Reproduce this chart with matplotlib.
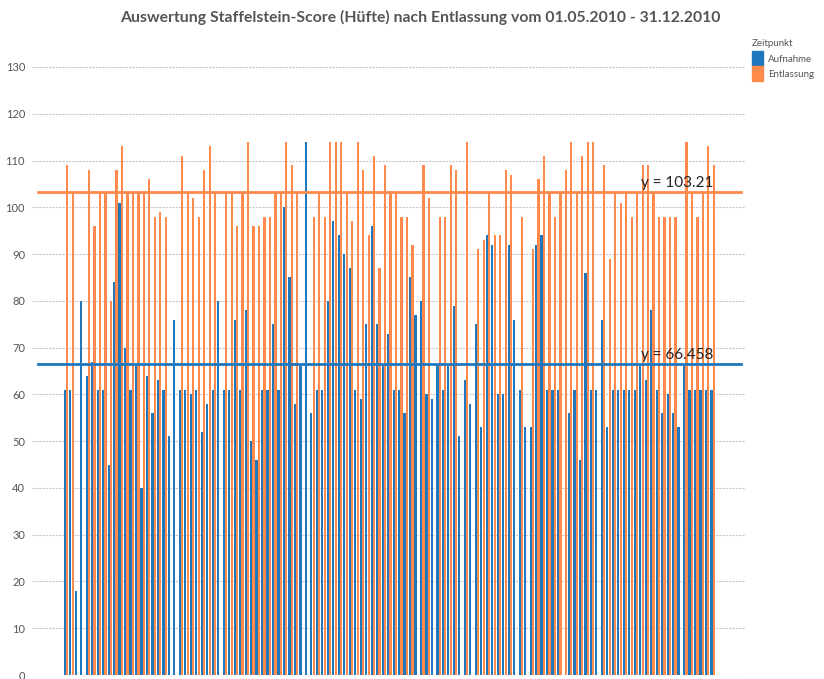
import matplotlib
matplotlib.use('Agg')

import matplotlib.pyplot as plt
from matplotlib.patches import Rectangle
import numpy as np

nan = np.nan

# Staffelstein-Score (Huefte), one pair per patient
aufnahme = [61, 61, 18, 80, 64, 67, 61, 61, 45, 84,
            101, 70, 61, 66, 40, 64, 56, 63, 61, 51,
            76, 61, 61, 60, 61, 52, 58, 61, 80, 61,
            61, 76, 61, 78, 50, 46, 61, 61, 75, 61,
            100, 85, 58, 66, 114, 56, 61, 61, 80, 97,
            94, 90, 87, 61, 59, 75, 96, 75, 66, 73,
            61, 61, 56, 85, 77, 80, 60, 59, 66, 61,
            66, 79, 51, 63, 58, 75, 53, 94, 92, 60,
            60, 92, 76, 61, 53, 53, 92, 94, 61, 61,
            61, nan, 56, 61, 46, 86, 61, 61, 76, 53,
            61, 61, 61, 61, 61, 66, 63, 78, 61, 56,
            60, 56, 53, 66, 61, 61, 61, 61, 61]

entlassung = [109, 103, nan, nan, 108, 96, 103, 103, 80, 108,
              113, 103, 103, 103, 103, 106, 98, 99, 98, nan,
              nan, 111, 103, 102, 98, 108, 113, 103, nan, 103,
              103, 96, 103, 114, 96, 96, 98, 98, 103, 103,
              114, 109, 103, nan, nan, 98, 103, 98, 114, 114,
              114, 103, 97, 114, 108, 94, 111, 87, 109, 103,
              103, 98, 98, 92, nan, 109, 102, nan, 98, 98,
              109, 108, nan, 114, nan, 91, 93, 103, 94, 94,
              108, 107, nan, 98, nan, 91, 106, 111, 103, 98,
              103, 108, 114, 103, 111, 114, 114, nan, 109, 89,
              103, 101, 103, 98, 103, 109, 109, 103, 98, 98,
              98, 98, nan, 114, 103, 98, 103, 113, 109]

mittel_aufnahme = 66.458
mittel_entlassung = 103.21

serien = ['Aufnahme', 'Entlassung']
yticks = list(range(0, 131, 10))

BLUE = '#1f78bd'
ORANGE = '#ff8a4c'
GREY = '#555555'

plt.rcParams['font.family'] = ['Lato', 'DejaVu Sans']

fig = plt.figure(figsize=(8.24, 6.79), dpi=100)
ax = fig.add_axes([32 / 824, 4 / 679, 713 / 824, 631.4 / 679])

x = np.arange(len(aufnahme))
ax.bar(x - 0.22, aufnahme, width=0.4, color=BLUE, zorder=2)
ax.bar(x + 0.22, entlassung, width=0.4, color=ORANGE, zorder=2)

# Mittelwertlinien
ax.axhline(mittel_entlassung, xmin=0.0084, xmax=0.994, color=ORANGE, lw=2, zorder=3)
ax.axhline(mittel_aufnahme, xmin=0.0084, xmax=0.994, color=BLUE, lw=2, zorder=3)
ax.text(104.9, mittel_entlassung + 0.5, 'y = ' + str(mittel_entlassung), fontsize=11,
        color='#222222', ha='left', va='bottom', zorder=4)
ax.text(104.9, mittel_aufnahme + 0.5, 'y = ' + str(mittel_aufnahme), fontsize=11,
        color='#222222', ha='left', va='bottom', zorder=4)

ax.set_xlim(-6.2, 123.9)
ax.set_ylim(0, 135)
ax.set_yticks(yticks)
ax.set_yticklabels([str(t) for t in yticks], fontsize=8, color=GREY)
ax.tick_params(axis='y', length=0, pad=5)
ax.set_xticks([])
ax.grid(axis='y', color='#c8c8c8', linestyle=(0, (2, 1)), lw=0.8, zorder=0)
for s in ax.spines.values():
    s.set_visible(False)

fig.text(420 / 824, 1 - 17 / 679,
         'Auswertung Staffelstein-Score (Hüfte) nach Entlassung vom 01.05.2010 - 31.12.2010',
         ha='center', va='center', fontsize=11.3, fontweight='bold', color=GREY)

# Legende
W, H = 824.0, 679.0
fig.text(752 / W, 1 - 44 / H, 'Zeitpunkt', fontsize=7, color=GREY, ha='left', va='center')
for i, (name, col) in enumerate(zip(serien, [BLUE, ORANGE])):
    y0 = 51 + i * 15
    fig.add_artist(Rectangle((752 / W, 1 - (y0 + 15) / H), 11 / W, 15 / H,
                             transform=fig.transFigure, color=col))
    fig.text(768 / W, 1 - (y0 + 8.5) / H, name, fontsize=7, color=GREY,
             ha='left', va='center')

plt.savefig('out.png', dpi=100)
